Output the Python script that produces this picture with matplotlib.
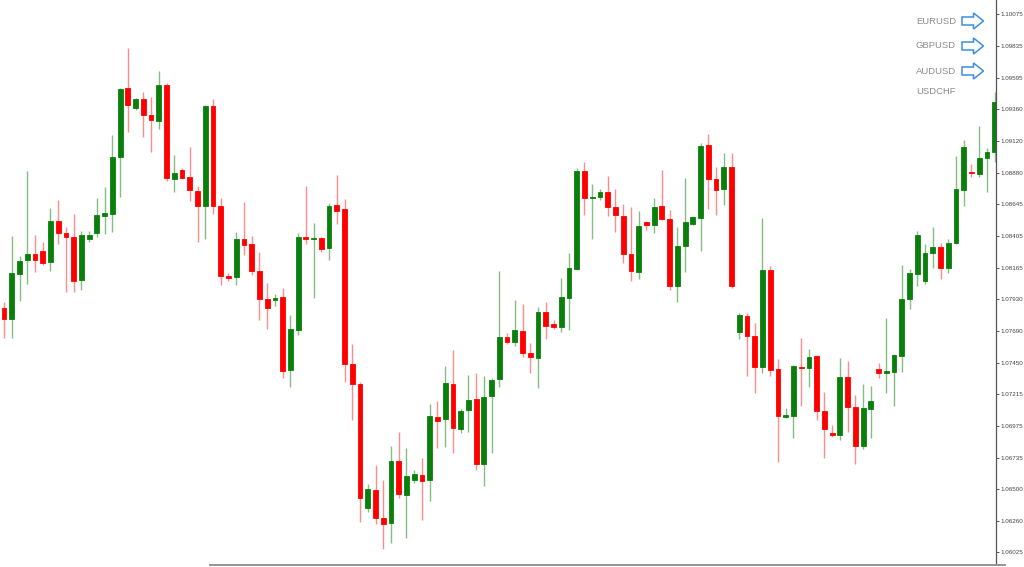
import numpy as np
import matplotlib
matplotlib.use("Agg")
import matplotlib.pyplot as plt
from matplotlib.patches import FancyArrow
from matplotlib.lines import Line2D

# candle data (open, high, low, close)
opens = [1.07861, 1.07778, 1.08117, 1.08222, 1.08267, 1.08290, 1.08207, 1.08516, 1.08425, 1.08395,
         1.08072, 1.08380, 1.08425, 1.08553, 1.08569, 1.08998, 1.09517, 1.09367, 1.09434, 1.09314,
         1.09269, 1.09540, 1.08832, 1.08900, 1.08847, 1.08742, 1.08629, 1.09382, 1.08629, 1.08102,
         1.08094, 1.08380, 1.08343, 1.08139, 1.07929, 1.07921, 1.07944, 1.07394, 1.07695, 1.08395,
         1.08380, 1.08388, 1.08313, 1.08636, 1.08606, 1.07439, 1.07288, 1.06355, 1.06490, 1.06279,
         1.06242, 1.06709, 1.06453, 1.06566, 1.06603, 1.06566, 1.07040, 1.07025, 1.07288, 1.06950,
         1.07093, 1.07175, 1.06686, 1.07198, 1.07326, 1.07642, 1.07605, 1.07688, 1.07522, 1.07484,
         1.07831, 1.07740, 1.07718, 1.07936, 1.08154, 1.08892, 1.08689, 1.08697, 1.08734, 1.08621,
         1.08553, 1.08267, 1.08132, 1.08508, 1.08486, 1.08629, 1.08531, 1.08026, 1.08328, 1.08493,
         1.08538, 1.09088, 1.08832, 1.08757, 1.08922, 1.07680, 1.07800, 1.07650, 1.07416, 1.08147,
         1.07401, 1.07040, 1.07047, 1.07416, 1.07409, 1.07499, 1.07085, 1.06919, 1.06904, 1.07341,
         1.07115, 1.06822, 1.07100, 1.07401, 1.07371, 1.07379, 1.07499, 1.07929, 1.08117, 1.08064,
         1.08275, 1.08320, 1.08162, 1.08350, 1.08749, 1.08885, 1.08870, 1.08990, 1.09035]
highs = [1.07906, 1.08403, 1.08252, 1.08892, 1.08410, 1.08358, 1.08614, 1.08674, 1.08471, 1.08569,
         1.08441, 1.08441, 1.08689, 1.08772, 1.09163, 1.09517, 1.09819, 1.09442, 1.09487, 1.09450,
         1.09645, 1.09555, 1.09013, 1.08915, 1.09073, 1.08779, 1.09389, 1.09434, 1.08689, 1.08124,
         1.08433, 1.08659, 1.08403, 1.08282, 1.08049, 1.07966, 1.08011, 1.07808, 1.08425, 1.08779,
         1.08501, 1.08395, 1.08651, 1.08862, 1.08682, 1.07590, 1.07303, 1.06535, 1.06678, 1.06566,
         1.06822, 1.06927, 1.06807, 1.06641, 1.06731, 1.07138, 1.07160, 1.07424, 1.07544, 1.07100,
         1.07356, 1.07371, 1.07349, 1.07334, 1.08139, 1.07672, 1.07921, 1.07891, 1.07597, 1.07868,
         1.07906, 1.07770, 1.08087, 1.08275, 1.08915, 1.08960, 1.08794, 1.08757, 1.08855, 1.08757,
         1.08644, 1.08621, 1.08591, 1.08516, 1.08689, 1.08900, 1.08599, 1.08471, 1.08840, 1.08553,
         1.09103, 1.09171, 1.08922, 1.09028, 1.09028, 1.07823, 1.07823, 1.07748, 1.08538, 1.08177,
         1.07477, 1.07108, 1.07431, 1.07635, 1.07552, 1.07507, 1.07228, 1.06980, 1.07484, 1.07462,
         1.07206, 1.07288, 1.07273, 1.07447, 1.07786, 1.07514, 1.08184, 1.08154, 1.08441, 1.08343,
         1.08471, 1.08350, 1.08380, 1.09005, 1.09126, 1.08945, 1.09231, 1.09066, 1.09487]
lows = [1.07635, 1.07635, 1.07913, 1.08042, 1.08132, 1.08185, 1.08139, 1.08343, 1.07981, 1.07981,
        1.07996, 1.08358, 1.08395, 1.08418, 1.08433, 1.08697, 1.09186, 1.09352, 1.09148, 1.09035,
        1.09209, 1.08817, 1.08734, 1.08832, 1.08666, 1.08358, 1.08380, 1.08569, 1.08034, 1.08064,
        1.08034, 1.08260, 1.08109, 1.07770, 1.07703, 1.07876, 1.07334, 1.07266, 1.07657, 1.08343,
        1.07936, 1.08282, 1.08222, 1.08493, 1.07303, 1.07017, 1.06249, 1.06325, 1.06234, 1.06046,
        1.06091, 1.06430, 1.06129, 1.06543, 1.06264, 1.06407, 1.06807, 1.06814, 1.06769, 1.06919,
        1.06927, 1.06641, 1.06520, 1.06769, 1.07266, 1.07590, 1.07575, 1.07492, 1.07371, 1.07258,
        1.07627, 1.07703, 1.07680, 1.07695, 1.08147, 1.08561, 1.08380, 1.08674, 1.08553, 1.08433,
        1.08200, 1.08064, 1.08079, 1.08448, 1.08425, 1.08523, 1.07996, 1.07906, 1.08132, 1.08486,
        1.08290, 1.08606, 1.08561, 1.08636, 1.08011, 1.07627, 1.07349, 1.07221, 1.07371, 1.07349,
        1.06701, 1.07032, 1.06882, 1.07123, 1.07266, 1.07017, 1.06731, 1.06889, 1.06867, 1.06927,
        1.06686, 1.06799, 1.06882, 1.07334, 1.07221, 1.07123, 1.07379, 1.07853, 1.08026, 1.08042,
        1.08162, 1.08079, 1.08124, 1.08343, 1.08629, 1.08847, 1.08847, 1.08734, 1.08960]
closes = [1.07778, 1.08124, 1.08215, 1.08267, 1.08222, 1.08200, 1.08516, 1.08425, 1.08395, 1.08064,
          1.08410, 1.08410, 1.08561, 1.08576, 1.08998, 1.09510, 1.09389, 1.09434, 1.09314, 1.09276,
          1.09540, 1.08840, 1.08877, 1.08840, 1.08749, 1.08629, 1.09382, 1.08629, 1.08102, 1.08087,
          1.08380, 1.08335, 1.08139, 1.07929, 1.07861, 1.07936, 1.07386, 1.07703, 1.08395, 1.08380,
          1.08388, 1.08305, 1.08629, 1.08591, 1.07439, 1.07288, 1.06430, 1.06498, 1.06279, 1.06234,
          1.06709, 1.06460, 1.06596, 1.06611, 1.06558, 1.07047, 1.07010, 1.07296, 1.06957, 1.07085,
          1.07168, 1.06686, 1.07191, 1.07319, 1.07642, 1.07605, 1.07695, 1.07522, 1.07492, 1.07831,
          1.07725, 1.07718, 1.07944, 1.08162, 1.08892, 1.08689, 1.08697, 1.08734, 1.08621, 1.08561,
          1.08267, 1.08139, 1.08478, 1.08486, 1.08621, 1.08531, 1.08026, 1.08328, 1.08508, 1.08546,
          1.09081, 1.08832, 1.08749, 1.08922, 1.08026, 1.07808, 1.07650, 1.07416, 1.08147, 1.07394,
          1.07047, 1.07055, 1.07424, 1.07409, 1.07492, 1.07085, 1.06950, 1.06904, 1.07341, 1.07115,
          1.06822, 1.07108, 1.07160, 1.07371, 1.07386, 1.07507, 1.07929, 1.08124, 1.08410, 1.08275,
          1.08320, 1.08162, 1.08350, 1.08757, 1.09073, 1.08877, 1.08990, 1.09035, 1.09412]

price_ticks = [1.10075, 1.09835, 1.09595, 1.09360, 1.09120, 1.08880, 1.08645, 1.08405, 1.08165,
               1.07930, 1.07690, 1.07450, 1.07215, 1.06975, 1.06735, 1.06500, 1.06260, 1.06025]
symbols = ["EURUSD", "GBPUSD", "AUDUSD", "USDCHF"]

o = np.array(opens)
h = np.array(highs)
l = np.array(lows)
c = np.array(closes)
x = np.arange(len(o))
up = c >= o

fig = plt.figure(figsize=(10.24, 5.67), dpi=100)
ax = fig.add_axes([0, 4 / 567, 996 / 1024, 563 / 567])

green = "#0b7f0b"
red = "#ff0000"
cols = np.where(up, green, red)

# wicks
ax.vlines(x[up], l[up], h[up], color=green, lw=1.0, alpha=0.5)
ax.vlines(x[~up], l[~up], h[~up], color=red, lw=1.0, alpha=0.45)
# bodies
ax.bar(x, np.abs(c - o), bottom=np.minimum(o, c), width=0.62, color=cols,
       edgecolor=cols, linewidth=0.6)

ax.set_xlim(-0.52, 128.17)
ax.set_ylim(1.05941, 1.10180)

for s in ["left", "top", "bottom"]:
    ax.spines[s].set_visible(False)
ax.spines["right"].set_color("#555555")
ax.spines["right"].set_linewidth(0.9)
ax.set_xticks([])
ax.yaxis.tick_right()
ax.set_yticks(price_ticks)
ax.set_yticklabels(["%.5f" % v for v in price_ticks], fontsize=4.5,
                   family="Liberation Sans", color="#444444")
ax.tick_params(axis="y", length=2.5, width=0.7, pad=1.0, color="#555555")

# symbol list with arrows in the top right
ys = [21, 46, 71, 91]
for i, name in enumerate(symbols):
    fig.text(916 / 1024, 1 - ys[i] / 567, name, fontsize=6.8, family="Liberation Sans",
             color="#8c8c8c", va="center", ha="left")
    if i < 3:
        yi = (567 - ys[i]) / 100
        arr = FancyArrow(9.62, yi, 0.215, 0, width=0.08, head_width=0.16, head_length=0.1,
                         length_includes_head=True, fc="white", ec="#3d8ee0", lw=1.1,
                         transform=fig.dpi_scale_trans)
        fig.add_artist(arr)

# scrollbar line at the bottom
fig.add_artist(Line2D([2.1, 10.05], [0.022, 0.022], transform=fig.dpi_scale_trans,
                      color="#8a8a8a", lw=1.3))

plt.savefig("out.png", dpi=100)
plt.close()
